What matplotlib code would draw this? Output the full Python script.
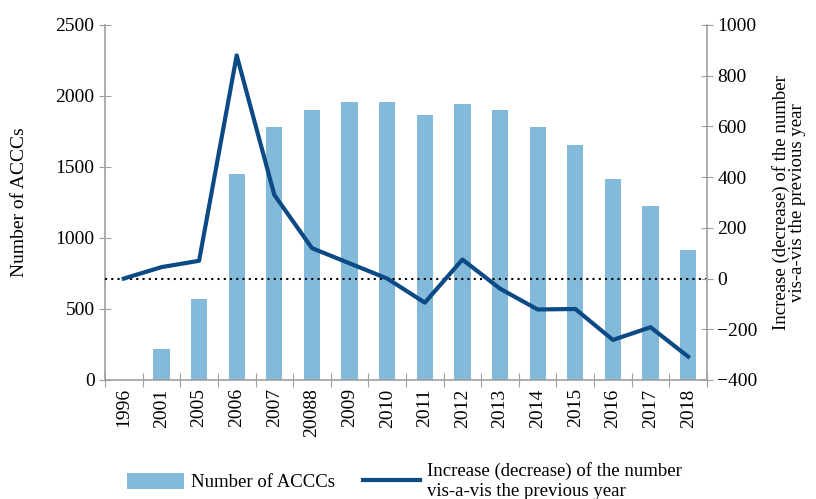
import matplotlib.pyplot as plt
import numpy as np

plt.rcParams['font.family'] = ['Liberation Serif', 'DejaVu Serif']

# Datos
years = ["1996", "2001", "2005", "2006", "2007", "20088", "2009", "2010",
         "2011", "2012", "2013", "2014", "2015", "2016", "2017", "2018"]
acccs = [0, 215, 570, 1450, 1780, 1900, 1960, 1960,
         1865, 1940, 1900, 1780, 1655, 1415, 1225, 915]
change = [0, 45, 70, 880, 330, 120, 60, 0,
          -95, 75, -40, -122, -120, -242, -192, -308]

bar_color = "#84bad9"
line_color = "#0b4a85"
grey = "#a0a0a0"

fig = plt.figure(figsize=(8.16, 4.99), dpi=100)
ax = fig.add_axes([0.1287, 0.2385, 0.7377, 0.7115])
x = np.arange(len(years))

ax.bar(x, acccs, width=0.43, color=bar_color, label="Number of ACCCs", zorder=2)
ax.set_xlim(-0.5, len(years) - 0.5)
ax.set_ylim(0, 2500)
ax.set_yticks(range(0, 2501, 500))
ax.set_ylabel("Number of ACCCs", fontsize=14, labelpad=20)

# Ticks entre categorias, etiquetas en el centro
ax.set_xticks(np.arange(-0.5, len(years), 1.0))
ax.set_xticklabels([])
ax.set_xticks(x, minor=True)
ax.set_xticklabels(years, minor=True, rotation=90, fontsize=14)
ax.tick_params(axis="x", which="minor", length=0, pad=6)
ax.tick_params(axis="x", which="major", direction="inout", length=10, color=grey)
ax.tick_params(axis="y", direction="inout", length=8, color=grey, labelsize=14)

for s in ["top", "right"]:
    ax.spines[s].set_visible(False)
for s in ["left", "bottom"]:
    ax.spines[s].set_color(grey)
    ax.spines[s].set_linewidth(1.2)

ax2 = ax.twinx()
ax2.plot(x, change, color=line_color, lw=3, label="Increase (decrease) of the number\nvis-a-vis the previous year", zorder=3)
ax2.axhline(0, color="black", ls=(0, (1, 2)), lw=1.5, zorder=1)
ax2.set_ylim(-400, 1000)
ax2.set_yticks(range(-400, 1001, 200))
ax2.set_yticklabels([str(v).replace("-", "\u2212") for v in range(-400, 1001, 200)])
ax2.tick_params(axis="y", direction="inout", length=8, color=grey, labelsize=14)
ax2.set_ylabel("Increase (decrease) of the number\nvis-a-vis the previous year", fontsize=13.5,
               labelpad=10, linespacing=0.95)
for s in ["top", "left", "bottom"]:
    ax2.spines[s].set_visible(False)
ax2.spines["right"].set_color(grey)
ax2.spines["right"].set_linewidth(1.2)

h1, l1 = ax.get_legend_handles_labels()
h2, l2 = ax2.get_legend_handles_labels()
fig.legend(h1 + h2, l1 + l2, loc="upper left", bbox_to_anchor=(0.147, 0.089),
           ncol=2, frameon=False, fontsize=13.5, handlelength=3.0, handleheight=0.9,
           columnspacing=1.5, handletextpad=0.4, borderaxespad=0, labelspacing=0)

fig.savefig("out.png", dpi=100)
